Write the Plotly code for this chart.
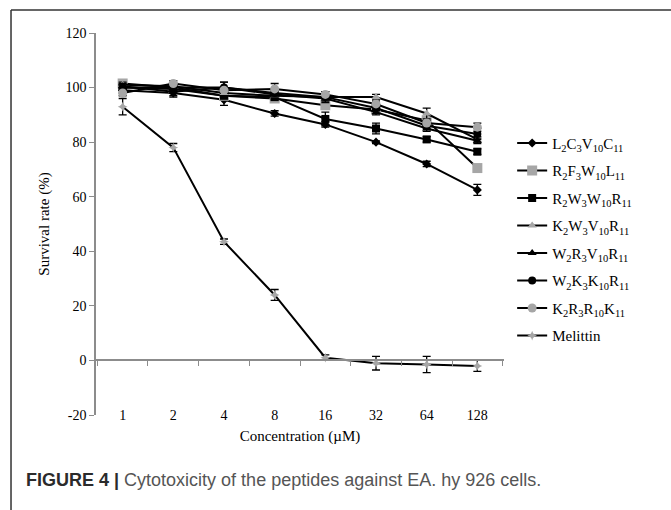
import plotly.graph_objects as go

# Concentrations (µM) on a categorical axis
concentrations = ["1", "2", "4", "8", "16", "32", "64", "128"]

# Survival rate (%) per peptide, with standard-deviation error bars
l2c3v10c11 = [99, 98, 95.5, 90.5, 86.5, 80, 72, 62.5]
l2c3v10c11_err = [1, 1, 2, 1, 1, 0.5, 1, 2]

r2f3w10l11 = [101.5, 100, 97, 96, 93.5, 92, 88, 70.5]
r2f3w10l11_err = [1, 1, 1, 1, 1, 1, 1, 1]

r2w3w10r11 = [100, 99.5, 97, 96.5, 88.5, 85, 81, 76.5]
r2w3w10r11_err = [1, 1, 1, 1, 2.5, 2, 1, 1]

k2w3v10r11 = [101, 100.5, 98, 97, 96.5, 96.5, 90.5, 81]
k2w3v10r11_err = [1, 1, 1, 1, 1, 1, 2, 1]

w2r3v10r11 = [100.5, 98.5, 100, 97.5, 96, 91, 85, 80.5]
w2r3v10r11_err = [1, 2, 2, 1, 1, 1, 1, 1]

w2k3k10r11 = [100, 100, 100, 98, 96.5, 92.5, 86, 83]
w2k3k10r11_err = [1, 1, 2, 1, 2, 1, 1, 2]

k2r3r10k11 = [98, 101.5, 99, 99.5, 97.5, 94, 87, 85.5]
k2r3r10k11_err = [1, 1, 1, 2, 1, 1, 1, 1.5]

melittin = [93, 78, 43.5, 24, 1, -1, -1.5, -2]
melittin_err = [3, 1.5, 1, 2, 1, 2.5, 3, 2]

y_ticks = [-20, 0, 20, 40, 60, 80, 100, 120]
y_tick_text = ["-20", "0", "20", "40", "60", "80", "100", "120"]

series = [
    ("L<sub>2</sub>C<sub>3</sub>V<sub>10</sub>C<sub>11</sub>", l2c3v10c11, l2c3v10c11_err, "diamond", 7, "black"),
    ("R<sub>2</sub>F<sub>3</sub>W<sub>10</sub>L<sub>11</sub>", r2f3w10l11, r2f3w10l11_err, "square", 10, "#a6a6a6"),
    ("R<sub>2</sub>W<sub>3</sub>W<sub>10</sub>R<sub>11</sub>", r2w3w10r11, r2w3w10r11_err, "square", 8, "black"),
    ("K<sub>2</sub>W<sub>3</sub>V<sub>10</sub>R<sub>11</sub>", k2w3v10r11, k2w3v10r11_err, "triangle-up", 8, "#a6a6a6"),
    ("W<sub>2</sub>R<sub>3</sub>V<sub>10</sub>R<sub>11</sub>", w2r3v10r11, w2r3v10r11_err, "triangle-up", 8, "black"),
    ("W<sub>2</sub>K<sub>3</sub>K<sub>10</sub>R<sub>11</sub>", w2k3k10r11, w2k3k10r11_err, "circle", 8, "black"),
    ("K<sub>2</sub>R<sub>3</sub>R<sub>10</sub>K<sub>11</sub>", k2r3r10k11, k2r3r10k11_err, "circle", 9, "#a6a6a6"),
    ("Melittin", melittin, melittin_err, "star-diamond", 7, "#a6a6a6"),
]

fig = go.Figure()
for i, (name, vals, errs, symbol, size, color) in enumerate(series):
    fig.add_trace(go.Scatter(
        x=concentrations, y=vals, name=name, mode="lines+markers",
        legendgroup=f"g{i}",
        line=dict(color="black", width=2),
        marker=dict(symbol=symbol, size=size, color=color, line=dict(width=0)),
        error_y=dict(type="data", array=errs, visible=True,
                     color="black", thickness=1.3, width=4),
    ))

# Companion axis that draws the category axis line through y = 0
fig.add_trace(go.Scatter(x=concentrations, y=[None] * len(concentrations),
                         xaxis="x2", showlegend=False, hoverinfo="skip"))

serif = "Liberation Serif"
axis_grey = "#8c8c8c"

fig.update_layout(
    width=671, height=510,
    margin=dict(l=96, r=167, t=33, b=95),
    paper_bgcolor="white", plot_bgcolor="white",
    font=dict(family=serif, size=14, color="black"),
    showlegend=True,
    legend=dict(x=1.02, xanchor="left", y=0.46, yanchor="middle",
                font=dict(family=serif, size=15, color="black"),
                itemwidth=30, tracegroupgap=5, traceorder="grouped",
                bgcolor="rgba(0,0,0,0)"),
    xaxis=dict(type="category", showline=False, showgrid=False, zeroline=False,
               anchor="free", position=0.026,
               ticks="", tickfont=dict(family=serif, size=14),
               title=dict(text="Concentration (µM)", font=dict(family=serif, size=15),
                          standoff=8)),
    xaxis2=dict(type="category", overlaying="x", matches="x", anchor="free",
                position=20 / 140, side="bottom", showticklabels=False,
                showline=True, linecolor=axis_grey, linewidth=1.5,
                ticks="outside", tickson="boundaries", ticklen=5,
                tickcolor=axis_grey, tickwidth=1.2, showgrid=False),
    yaxis=dict(range=[-20, 120], tickvals=y_ticks, ticktext=y_tick_text,
               showline=True, linecolor=axis_grey, linewidth=1.5,
               ticks="outside", ticklen=5, tickcolor=axis_grey, tickwidth=1.2,
               showgrid=False, zeroline=False,
               tickfont=dict(family=serif, size=14),
               title=dict(text="Survival rate (%)", font=dict(family=serif, size=15),
                          standoff=12)),
)

# Figure frame (left and top edges)
fig.add_shape(type="line", xref="paper", yref="paper",
              x0=-0.2083, x1=-0.2083, y0=1.0602, y1=-0.3,
              line=dict(color="#333333", width=1.5))
fig.add_shape(type="line", xref="paper", yref="paper",
              x0=-0.2083, x1=1.5, y0=1.0602, y1=1.0602,
              line=dict(color="#333333", width=1.5))

# Caption
fig.add_annotation(
    xref="paper", yref="paper", x=-0.176, y=-0.17, xanchor="left", yanchor="middle",
    showarrow=False, align="left",
    text="<b>FIGURE 4 |</b> <span style='color:#555555'>Cytotoxicity of the peptides against EA. hy 926 cells.</span>",
    font=dict(family="Liberation Sans", size=18, color="#2b2b2b"),
)

fig.write_html("out.html")
